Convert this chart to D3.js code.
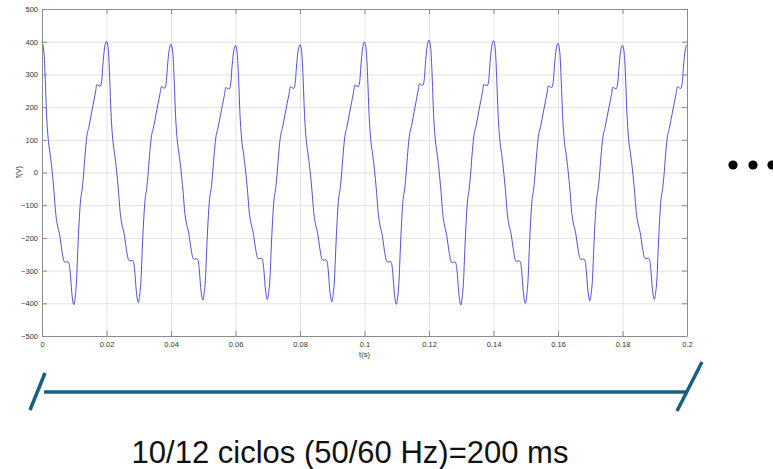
<!DOCTYPE html>
<html>
<head>
<meta charset="utf-8">
<script src="https://cdn.jsdelivr.net/npm/d3@7"></script>
<style>
  body { margin: 0; background: #fff; }
  svg { display: block; }
  text { font-family: "Liberation Sans", Arial, sans-serif; }
</style>
</head>
<body>
<svg id="chart" width="773" height="469"></svg>
<script>
const cycleMs = [0, 0.6, 1.0, 1.4, 2.0, 2.5, 3.1, 3.7, 4.3, 4.7, 5.5, 6.1, 6.8, 7.2, 8.0, 8.4, 8.8, 9.2, 9.6, 9.9,
  10.25, 10.7, 11.1, 11.5, 11.9, 12.5, 12.9, 13.3, 13.9, 14.6, 15.4, 16.0, 16.6, 17.0, 17.4, 18.0, 18.5, 18.9, 19.3, 19.7, 20.0];
const cycleV = [400, 368, 285, 182, 95, 58, 8, -55, -128, -155, -190, -232, -268, -272, -270, -276, -308, -360, -392, -400,
  -381, -330, -235, -152, -90, -47, -5, 48, 110, 142, 184, 215, 246, 268, 266, 263, 278, 330, 372, 395, 400];

// peak values of each cycle
const peaksV = [400, 401, 392, 388, 391, 399, 405, 403, 395, 389, 391];   // t = 0, 0.02 ... 0.2
const troughsV = [-404, -398, -390, -388, -395, -403, -405, -400, -392, -388]; // t = 0.01 ... 0.19

const xTicks = [0, 0.02, 0.04, 0.06, 0.08, 0.1, 0.12, 0.14, 0.16, 0.18, 0.2];
const yTicks = [-500, -400, -300, -200, -100, 0, 100, 200, 300, 400, 500];

const svg = d3.select('#chart');
const m = { left: 42, right: 687, top: 9, bottom: 336 };

const x = d3.scaleLinear().domain([0, 0.2]).range([m.left, m.right]);
const y = d3.scaleLinear().domain([-500, 500]).range([m.bottom, m.top]);

// series: the cycle shape scaled to each cycle's measured peak / trough
const series = [];
peaksV.slice(0, -1).forEach((pk, i) => {
  cycleMs.forEach((ms, j) => {
    if (i > 0 && j === 0) return;
    const base = cycleV[j];
    const amp = base < 0 ? -troughsV[i] : (ms < 10 ? pk : peaksV[i + 1]);
    series.push({ t: i * 0.02 + ms / 1000, v: base / 400 * amp });
  });
});

// grid
svg.append('g')
  .attr('transform', `translate(0,${m.bottom})`)
  .call(d3.axisBottom(x).tickValues(xTicks).tickSize(-(m.bottom - m.top)).tickFormat(''))
  .call(g => g.select('.domain').remove())
  .call(g => g.selectAll('line').attr('stroke', '#e3e3e3'));
svg.append('g')
  .attr('transform', `translate(${m.left},0)`)
  .call(d3.axisLeft(y).tickValues(yTicks).tickSize(-(m.right - m.left)).tickFormat(''))
  .call(g => g.select('.domain').remove())
  .call(g => g.selectAll('line').attr('stroke', '#e3e3e3'));

// waveform
svg.append('path')
  .datum(series)
  .attr('fill', 'none')
  .attr('stroke', '#3030d8')
  .attr('stroke-width', 0.85)
  .attr('d', d3.line().x(d => x(d.t)).y(d => y(d.v)).curve(d3.curveMonotoneX));

// axes, ticks inside like matlab
function styleAxis(g) {
  g.select('.domain').attr('stroke', '#8c8c8c');
  g.selectAll('.tick line').attr('stroke', '#8c8c8c');
  g.selectAll('text').attr('fill', '#333').style('font-size', '7.5px');
}
svg.append('g').attr('transform', `translate(0,${m.bottom})`)
  .call(d3.axisBottom(x).tickValues(xTicks).tickSizeInner(-5).tickSizeOuter(0).tickPadding(6)
    .tickFormat(d => d3.format('~g')(d)))
  .call(styleAxis);
svg.append('g').attr('transform', `translate(0,${m.top})`)
  .call(d3.axisTop(x).tickValues(xTicks).tickSizeInner(-5).tickSizeOuter(0).tickFormat(''))
  .call(styleAxis);
svg.append('g').attr('transform', `translate(${m.left},0)`)
  .call(d3.axisLeft(y).tickValues(yTicks).tickSizeInner(-5).tickSizeOuter(0).tickPadding(4))
  .call(styleAxis);
svg.append('g').attr('transform', `translate(${m.right},0)`)
  .call(d3.axisRight(y).tickValues(yTicks).tickSizeInner(-5).tickSizeOuter(0).tickFormat(''))
  .call(styleAxis);

svg.append('text').attr('x', (m.left + m.right) / 2).attr('y', 357)
  .attr('text-anchor', 'middle').attr('fill', '#333').style('font-size', '7.5px').text('t(s)');
svg.append('text').attr('transform', 'translate(21,172) rotate(-90)')
  .attr('text-anchor', 'middle').attr('fill', '#333').style('font-size', '7.5px').text('f(V)');

// continuation dots
svg.selectAll('circle.dot').data([733, 753, 772]).join('circle')
  .attr('class', 'dot').attr('cx', d => d).attr('cy', 165).attr('r', 4.6).attr('fill', '#000');

// span bracket under the axis
const span = svg.append('g').attr('stroke', '#1b5e80').attr('stroke-width', 3.5).attr('stroke-linecap', 'butt');
span.append('line').attr('x1', x(0) + 2).attr('x2', x(0.2)).attr('y1', 392).attr('y2', 392);
span.append('line').attr('x1', 45).attr('y1', 373).attr('x2', 30).attr('y2', 410);
span.append('line').attr('x1', 702).attr('y1', 362).attr('x2', 677).attr('y2', 411);

svg.append('text').attr('x', 350).attr('y', 463).attr('text-anchor', 'middle')
  .attr('fill', '#111').style('font-size', '31px').text('10/12 ciclos (50/60 Hz)=200 ms');
</script>
</body>
</html>
